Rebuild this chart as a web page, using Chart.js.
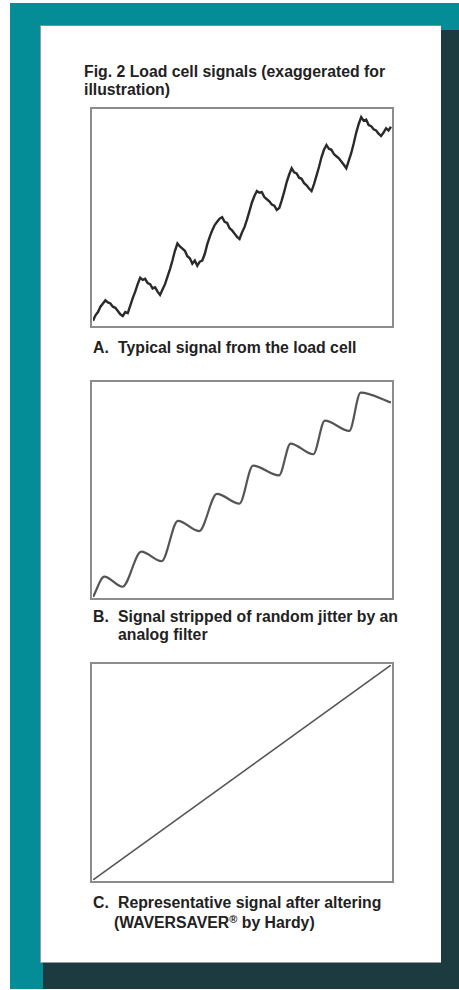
<!DOCTYPE html>
<html>
<head>
<meta charset="utf-8">
<script src="https://cdn.jsdelivr.net/npm/chart.js@4"></script>
<style>
  html, body { margin: 0; padding: 0; }
  body { width: 459px; height: 990px; position: relative; background: #fff; overflow: hidden;
         font-family: "Liberation Sans", Arial, sans-serif; }
  .teal { position: absolute; left: 10px; top: 3px; width: 449px; height: 986px; background: #058d97; }
  .shadow { position: absolute; left: 43px; top: 30px; width: 416px; height: 959px; background: #1c3b40; }
  .panel { position: absolute; left: 40px; top: 25px; width: 400px; height: 936px; background: #fff;
           border-top: 1px solid #8a8a8a; border-left: 1px solid #9a9a9a; border-bottom: 1px solid #9a9a9a; }
  .txt { position: absolute; font-weight: bold; font-size: 15.8px; color: #222; line-height: 17.5px; white-space: nowrap; }
  .box { position: absolute; left: 90px; width: 300px; border: 2px solid #8c8c8c; background: #fff; }
  .box canvas { display: block; }
  .ind { display: inline-block; width: 25px; }
  sup { font-size: 11px; vertical-align: 5px; line-height: 0; }
</style>
</head>
<body>
<div class="teal"></div>
<div class="shadow"></div>
<div class="panel"></div>

<div class="txt" style="left:84px; top:63px;">Fig. 2 Load cell signals (exaggerated for<br>illustration)</div>

<div class="box" style="top:107px; height:217px;"><canvas id="chartA" width="300" height="217"></canvas></div>
<div class="txt" style="left:93px; top:339px;"><span class="ind">A.</span>Typical signal from the load cell</div>

<div class="box" style="top:380px; height:216px;"><canvas id="chartB" width="300" height="216"></canvas></div>
<div class="txt" style="left:93px; top:608px;"><span class="ind">B.</span>Signal stripped of random jitter by an<br><span class="ind"></span>analog filter</div>

<div class="box" style="top:662px; height:217px;"><canvas id="chartC" width="300" height="217"></canvas></div>
<div class="txt" style="left:93px; top:893px; line-height:20px;"><span class="ind">C.</span>Representative signal after altering<br><span class="ind" style="width:21px"></span>(WAVERSAVER<sup>®</sup> by Hardy)</div>

<script>
// A: raw load cell signal, evenly spaced samples (0-100 scale)
const signalA = [
  2, 4.5, 6, 8.5, 10, 11.5, 10.5, 10, 8.5, 8, 6.5, 5, 4.2, 6, 5.5, 9, 12.5, 15.5, 19, 22,
  21, 21.5, 19.5, 19, 17, 17.5, 15.5, 14, 16.5, 19, 22.5, 26, 30, 34.5, 37.9, 36.5, 35.5, 34.5, 32, 31,
  28.5, 30, 27.6, 29.5, 30, 33, 37.5, 41, 44, 46.5, 48, 49.5, 50.2, 48, 47.5, 45, 44, 42.5, 41, 40,
  43, 45.5, 49, 53, 57, 60, 62.3, 61.5, 61.8, 59.5, 58.5, 57.5, 56, 55.5, 53.5, 54.4, 58, 62, 66.5, 70,
  72.9, 71, 70.5, 68.5, 68, 66, 65, 63.5, 62.3, 65.5, 69.5, 73.5, 78, 81.5, 83.7, 82, 81.5, 79.5, 78.5, 77.5,
  76, 74.5, 72.9, 76.5, 80, 84.5, 89.5, 93.5, 96.7, 95, 95.5, 93, 92.5, 91, 90.5, 89, 87.9, 89.5, 91.5, 90.5,
  92.2
];

// B: filtered signal, peaks and troughs
const filteredX = [0, 3.8, 9.9, 16.2, 23.0, 28.5, 35.6, 41.6, 49.1, 53.7, 62.4, 66.3, 73.9, 77.8, 86.0, 89.8, 100];
const filteredY = [0, 9.5, 4.8, 21.2, 16.7, 35.6, 30.8, 48.2, 43.6, 61.4, 56.8, 71.7, 66.7, 82.4, 77.6, 95.5, 90.9];

// C: WAVERSAVER output
const smoothX = [0, 100];
const smoothY = [0, 100];

function plotOptions(xType) {
  return {
    responsive: false,
    animation: false,
    layout: { padding: 1 },
    plugins: { legend: { display: false }, tooltip: { enabled: false } },
    elements: { point: { radius: 0 } },
    scales: {
      x: { type: xType, display: false, min: 0, max: xType === 'linear' ? 100 : undefined },
      y: { display: false, min: 0, max: 100 }
    }
  };
}

new Chart(document.getElementById('chartA'), {
  type: 'line',
  data: {
    labels: signalA.map((v, i) => i),
    datasets: [{ data: signalA, borderColor: '#2a2a2a', borderWidth: 2.4, tension: 0 }]
  },
  options: plotOptions('category')
});

new Chart(document.getElementById('chartB'), {
  type: 'line',
  data: {
    datasets: [{
      data: filteredX.map((x, i) => ({ x: x, y: filteredY[i] })),
      borderColor: '#555', borderWidth: 2.2, cubicInterpolationMode: 'monotone'
    }]
  },
  options: plotOptions('linear')
});

new Chart(document.getElementById('chartC'), {
  type: 'line',
  data: {
    datasets: [{
      data: smoothX.map((x, i) => ({ x: x, y: smoothY[i] })),
      borderColor: '#555', borderWidth: 1.5
    }]
  },
  options: plotOptions('linear')
});
</script>
</body>
</html>
